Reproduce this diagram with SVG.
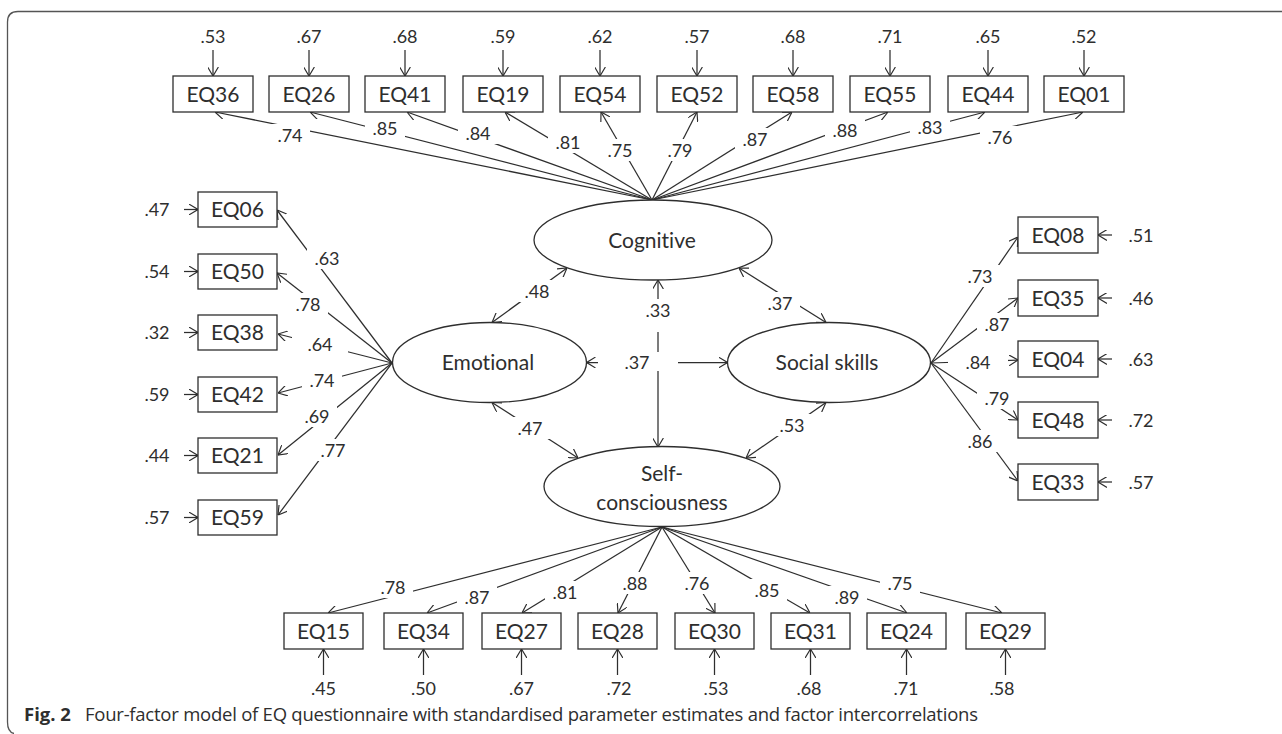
<svg xmlns="http://www.w3.org/2000/svg" width="1282" height="734" viewBox="0 0 1282 734">
<style>
.ln{stroke:#2e2e2e;stroke-width:1.25;fill:none}
.ar{marker-end:url(#ah)}
.db{marker-start:url(#ah);marker-end:url(#ah)}
.box{fill:#fff;stroke:#2e2e2e;stroke-width:1.3}
.lat{fill:#fff;stroke:#2e2e2e;stroke-width:1.3}
.t{font-family:Lato,"Liberation Sans",sans-serif;font-size:21px;fill:#2e2e2e;text-anchor:middle;font-variant-ligatures:none}
.n{font-family:Lato,"Liberation Sans",sans-serif;font-size:18px;fill:#2e2e2e;text-anchor:middle}
.bg{fill:#fff}
.cap{font-family:"Open Sans","Noto Sans",sans-serif;font-size:18.5px;fill:#2e2e2e}
</style>
<defs>
<marker id="ah" viewBox="0 0 10 12" refX="10" refY="6" markerWidth="9" markerHeight="11" markerUnits="userSpaceOnUse" orient="auto-start-reverse">
<path d="M0,0 L10,6 L0,12" fill="none" stroke="#2e2e2e" stroke-width="1.3"/>
</marker>
</defs>
<rect width="1282" height="734" fill="#fff"/>
<path d="M1282 11.5 H18 Q7.5 11.5 7.5 22 V722 Q7.5 732 14 733.5" fill="none" stroke="#555" stroke-width="1.3"/>

<g id="connectors">
<line class="ln ar" x1="652" y1="200" x2="215" y2="112"/>
<line class="ln ar" x1="652" y1="200" x2="310" y2="112"/>
<line class="ln ar" x1="652" y1="200" x2="407" y2="112"/>
<line class="ln ar" x1="652" y1="200" x2="505" y2="112"/>
<line class="ln ar" x1="652" y1="200" x2="601" y2="112"/>
<line class="ln ar" x1="652" y1="200" x2="697" y2="112"/>
<line class="ln ar" x1="652" y1="200" x2="792" y2="112"/>
<line class="ln ar" x1="652" y1="200" x2="888" y2="112"/>
<line class="ln ar" x1="652" y1="200" x2="985" y2="112"/>
<line class="ln ar" x1="652" y1="200" x2="1083" y2="112"/>
<line class="ln ar" x1="213" y1="50" x2="213" y2="76"/>
<line class="ln ar" x1="309" y1="50" x2="309" y2="76"/>
<line class="ln ar" x1="405" y1="50" x2="405" y2="76"/>
<line class="ln ar" x1="503" y1="50" x2="503" y2="76"/>
<line class="ln ar" x1="600" y1="50" x2="600" y2="76"/>
<line class="ln ar" x1="697" y1="50" x2="697" y2="76"/>
<line class="ln ar" x1="793" y1="50" x2="793" y2="76"/>
<line class="ln ar" x1="890" y1="50" x2="890" y2="76"/>
<line class="ln ar" x1="988" y1="50" x2="988" y2="76"/>
<line class="ln ar" x1="1084" y1="50" x2="1084" y2="76"/>
<line class="ln ar" x1="392" y1="363" x2="277" y2="210"/>
<line class="ln ar" x1="392" y1="363" x2="277" y2="273"/>
<line class="ln ar" x1="392" y1="363" x2="278" y2="334"/>
<line class="ln ar" x1="392" y1="363" x2="278" y2="393"/>
<line class="ln ar" x1="392" y1="363" x2="278" y2="455"/>
<line class="ln ar" x1="392" y1="363" x2="278" y2="515"/>
<line class="ln ar" x1="184" y1="209.5" x2="198" y2="209.5"/>
<line class="ln ar" x1="184" y1="271.5" x2="198" y2="271.5"/>
<line class="ln ar" x1="184" y1="332.5" x2="198" y2="332.5"/>
<line class="ln ar" x1="184" y1="394.5" x2="198" y2="394.5"/>
<line class="ln ar" x1="184" y1="455.5" x2="198" y2="455.5"/>
<line class="ln ar" x1="184" y1="517.5" x2="198" y2="517.5"/>
<line class="ln ar" x1="931" y1="363" x2="1018" y2="237"/>
<line class="ln ar" x1="931" y1="363" x2="1018" y2="298"/>
<line class="ln ar" x1="931" y1="363" x2="1018" y2="360"/>
<line class="ln ar" x1="931" y1="363" x2="1018" y2="420"/>
<line class="ln ar" x1="931" y1="363" x2="1018" y2="481"/>
<line class="ln ar" x1="1112" y1="235" x2="1098" y2="235"/>
<line class="ln ar" x1="1112" y1="298" x2="1098" y2="298"/>
<line class="ln ar" x1="1112" y1="359" x2="1098" y2="359"/>
<line class="ln ar" x1="1112" y1="420" x2="1098" y2="420"/>
<line class="ln ar" x1="1112" y1="482" x2="1098" y2="482"/>
<line class="ln ar" x1="662" y1="527" x2="328" y2="613"/>
<line class="ln ar" x1="662" y1="527" x2="427" y2="613"/>
<line class="ln ar" x1="662" y1="527" x2="522" y2="613"/>
<line class="ln ar" x1="662" y1="527" x2="618" y2="613"/>
<line class="ln ar" x1="662" y1="527" x2="715" y2="613"/>
<line class="ln ar" x1="662" y1="527" x2="810" y2="613"/>
<line class="ln ar" x1="662" y1="527" x2="907" y2="613"/>
<line class="ln ar" x1="662" y1="527" x2="1002" y2="613"/>
<line class="ln ar" x1="323.5" y1="675" x2="323.5" y2="649"/>
<line class="ln ar" x1="423.5" y1="675" x2="423.5" y2="649"/>
<line class="ln ar" x1="521.5" y1="675" x2="521.5" y2="649"/>
<line class="ln ar" x1="617.5" y1="675" x2="617.5" y2="649"/>
<line class="ln ar" x1="714.5" y1="675" x2="714.5" y2="649"/>
<line class="ln ar" x1="810.5" y1="675" x2="810.5" y2="649"/>
<line class="ln ar" x1="906.5" y1="675" x2="906.5" y2="649"/>
<line class="ln ar" x1="1005.5" y1="675" x2="1005.5" y2="649"/>
<line class="ln db" x1="492" y1="322.5" x2="567" y2="268"/>
<line class="ln db" x1="739" y1="268" x2="826" y2="322.5"/>
<line class="ln db" x1="492" y1="402.5" x2="578" y2="458"/>
<line class="ln db" x1="826" y1="402.5" x2="746" y2="458"/>
<line class="ln db" x1="658" y1="280" x2="658" y2="447"/>
<line class="ln db" x1="586.5" y1="362.5" x2="727.5" y2="362.5"/>

<g class="bg">
<rect x="270" y="124" width="40" height="22"/>
<rect x="365" y="117" width="40" height="22"/>
<rect x="458" y="122" width="40" height="22"/>
<rect x="548" y="131" width="40" height="22"/>
<rect x="602" y="139" width="36" height="22"/>
<rect x="662" y="139" width="36" height="22"/>
<rect x="735" y="128" width="40" height="22"/>
<rect x="825" y="119" width="40" height="22"/>
<rect x="910" y="116" width="40" height="22"/>
<rect x="980" y="126" width="40" height="22"/>
<rect x="307" y="247" width="40" height="22"/>
<rect x="288" y="293" width="40" height="22"/>
<rect x="292" y="333" width="56" height="22"/>
<rect x="302" y="369" width="40" height="22"/>
<rect x="297" y="405" width="40" height="22"/>
<rect x="313" y="439" width="40" height="22"/>
<rect x="960" y="265" width="40" height="22"/>
<rect x="977" y="313" width="40" height="22"/>
<rect x="948" y="351" width="60" height="22"/>
<rect x="977" y="387" width="40" height="22"/>
<rect x="960" y="430" width="40" height="22"/>
<rect x="373" y="576" width="40" height="22"/>
<rect x="457" y="586" width="40" height="22"/>
<rect x="545" y="581" width="40" height="22"/>
<rect x="617" y="572" width="36" height="22"/>
<rect x="679" y="572" width="36" height="22"/>
<rect x="747" y="579" width="40" height="22"/>
<rect x="827" y="586" width="40" height="22"/>
<rect x="880" y="572" width="40" height="22"/>
<rect x="517" y="280" width="40" height="22"/>
<rect x="760" y="292" width="40" height="22"/>
<rect x="640" y="299" width="36" height="33"/>
<rect x="598" y="352" width="80" height="19"/>
<rect x="510" y="417" width="40" height="22"/>
<rect x="772" y="414" width="40" height="22"/>
</g>
<g class="n">
<text x="290" y="141.5">.74</text>
<text x="385" y="134.5">.85</text>
<text x="478" y="139.5">.84</text>
<text x="568" y="148.5">.81</text>
<text x="620" y="156.5">.75</text>
<text x="680" y="156.5">.79</text>
<text x="755" y="145.5">.87</text>
<text x="845" y="136.5">.88</text>
<text x="930" y="133.5">.83</text>
<text x="1000" y="143.5">.76</text>
<text x="327" y="264.5">.63</text>
<text x="308" y="310.5">.78</text>
<text x="320" y="350.5">.64</text>
<text x="322" y="386.5">.74</text>
<text x="317" y="422.5">.69</text>
<text x="333" y="456.5">.77</text>
<text x="980" y="282.5">.73</text>
<text x="997" y="330.5">.87</text>
<text x="978" y="368.5">.84</text>
<text x="997" y="404.5">.79</text>
<text x="980" y="447.5">.86</text>
<text x="393" y="593.5">.78</text>
<text x="477" y="603.5">.87</text>
<text x="565" y="598.5">.81</text>
<text x="635" y="589.5">.88</text>
<text x="697" y="589.5">.76</text>
<text x="767" y="596.5">.85</text>
<text x="847" y="603.5">.89</text>
<text x="900" y="589.5">.75</text>
<text x="537" y="297.5">.48</text>
<text x="780" y="309.5">.37</text>
<text x="658" y="316.5">.33</text>
<text x="637" y="368.5">.37</text>
<text x="530" y="434.5">.47</text>
<text x="792" y="431.5">.53</text>
</g>
</g>

<g id="errors" class="n">
<text x="213" y="43">.53</text>
<text x="309" y="43">.67</text>
<text x="405" y="43">.68</text>
<text x="503" y="43">.59</text>
<text x="600" y="43">.62</text>
<text x="697" y="43">.57</text>
<text x="793" y="43">.68</text>
<text x="890" y="43">.71</text>
<text x="988" y="43">.65</text>
<text x="1084" y="43">.52</text>
<text x="157" y="216">.47</text>
<text x="157" y="278">.54</text>
<text x="157" y="339">.32</text>
<text x="157" y="401">.59</text>
<text x="157" y="462">.44</text>
<text x="157" y="524">.57</text>
<text x="1141" y="241.5">.51</text>
<text x="1141" y="304.5">.46</text>
<text x="1141" y="365.5">.63</text>
<text x="1141" y="426.5">.72</text>
<text x="1141" y="488.5">.57</text>
<text x="323.5" y="694.5">.45</text>
<text x="423.5" y="694.5">.50</text>
<text x="521.5" y="694.5">.67</text>
<text x="619" y="694.5">.72</text>
<text x="716" y="694.5">.53</text>
<text x="809" y="694.5">.68</text>
<text x="906" y="694.5">.71</text>
<text x="1002" y="694.5">.58</text>
</g>

<g id="Cognitive"><ellipse class="lat" cx="653" cy="240" rx="119" ry="40"/><text class="t" x="652" y="247.5">Cognitive</text></g>
<g id="Emotional"><ellipse class="lat" cx="489.5" cy="362.5" rx="97" ry="40"/><text class="t" x="488" y="370">Emotional</text></g>
<g id="SocialSkills"><ellipse class="lat" cx="829" cy="362.5" rx="101.5" ry="40"/><text class="t" x="827" y="370">Social skills</text></g>
<g id="SelfConsciousness"><ellipse class="lat" cx="662" cy="486.5" rx="118" ry="40"/><text class="t" x="662" y="480.5">Self-</text><text class="t" x="662" y="509.5">consciousness</text></g>

<g id="EQ36"><rect class="box" x="173" y="76" width="80" height="36"/><text class="t" x="213" y="101.5">EQ36</text></g>
<g id="EQ26"><rect class="box" x="269" y="76" width="80" height="36"/><text class="t" x="309" y="101.5">EQ26</text></g>
<g id="EQ41"><rect class="box" x="365" y="76" width="80" height="36"/><text class="t" x="405" y="101.5">EQ41</text></g>
<g id="EQ19"><rect class="box" x="463" y="76" width="80" height="36"/><text class="t" x="503" y="101.5">EQ19</text></g>
<g id="EQ54"><rect class="box" x="560" y="76" width="80" height="36"/><text class="t" x="600" y="101.5">EQ54</text></g>
<g id="EQ52"><rect class="box" x="657" y="76" width="80" height="36"/><text class="t" x="697" y="101.5">EQ52</text></g>
<g id="EQ58"><rect class="box" x="753" y="76" width="80" height="36"/><text class="t" x="793" y="101.5">EQ58</text></g>
<g id="EQ55"><rect class="box" x="850" y="76" width="80" height="36"/><text class="t" x="890" y="101.5">EQ55</text></g>
<g id="EQ44"><rect class="box" x="948" y="76" width="80" height="36"/><text class="t" x="988" y="101.5">EQ44</text></g>
<g id="EQ01"><rect class="box" x="1044" y="76" width="80" height="36"/><text class="t" x="1084" y="101.5">EQ01</text></g>

<g id="EQ06"><rect class="box" x="198" y="192" width="79" height="35"/><text class="t" x="237.5" y="217">EQ06</text></g>
<g id="EQ50"><rect class="box" x="198" y="254" width="79" height="35"/><text class="t" x="237.5" y="279">EQ50</text></g>
<g id="EQ38"><rect class="box" x="198" y="315" width="79" height="35"/><text class="t" x="237.5" y="340">EQ38</text></g>
<g id="EQ42"><rect class="box" x="198" y="377" width="79" height="35"/><text class="t" x="237.5" y="402">EQ42</text></g>
<g id="EQ21"><rect class="box" x="198" y="438" width="79" height="35"/><text class="t" x="237.5" y="463">EQ21</text></g>
<g id="EQ59"><rect class="box" x="198" y="500" width="79" height="35"/><text class="t" x="237.5" y="525">EQ59</text></g>

<g id="EQ08"><rect class="box" x="1018" y="217" width="80" height="36"/><text class="t" x="1058" y="242.5">EQ08</text></g>
<g id="EQ35"><rect class="box" x="1018" y="280" width="80" height="36"/><text class="t" x="1058" y="305.5">EQ35</text></g>
<g id="EQ04"><rect class="box" x="1018" y="341" width="80" height="36"/><text class="t" x="1058" y="366.5">EQ04</text></g>
<g id="EQ48"><rect class="box" x="1018" y="402" width="80" height="36"/><text class="t" x="1058" y="427.5">EQ48</text></g>
<g id="EQ33"><rect class="box" x="1018" y="464" width="80" height="36"/><text class="t" x="1058" y="489.5">EQ33</text></g>

<g id="EQ15"><rect class="box" x="284" y="613" width="79" height="36"/><text class="t" x="323.5" y="638.5">EQ15</text></g>
<g id="EQ34"><rect class="box" x="384" y="613" width="79" height="36"/><text class="t" x="423.5" y="638.5">EQ34</text></g>
<g id="EQ27"><rect class="box" x="482" y="613" width="79" height="36"/><text class="t" x="521.5" y="638.5">EQ27</text></g>
<g id="EQ28"><rect class="box" x="578" y="613" width="79" height="36"/><text class="t" x="617.5" y="638.5">EQ28</text></g>
<g id="EQ30"><rect class="box" x="675" y="613" width="79" height="36"/><text class="t" x="714.5" y="638.5">EQ30</text></g>
<g id="EQ31"><rect class="box" x="771" y="613" width="79" height="36"/><text class="t" x="810.5" y="638.5">EQ31</text></g>
<g id="EQ24"><rect class="box" x="867" y="613" width="79" height="36"/><text class="t" x="906.5" y="638.5">EQ24</text></g>
<g id="EQ29"><rect class="box" x="966" y="613" width="79" height="36"/><text class="t" x="1005.5" y="638.5">EQ29</text></g>

<g id="caption">
<text class="cap" x="24" y="721" font-weight="bold">Fig. 2</text>
<text class="cap" x="85" y="721" textLength="893" lengthAdjust="spacing">Four-factor model of EQ questionnaire with standardised parameter estimates and factor intercorrelations</text>
</g>
</svg>
